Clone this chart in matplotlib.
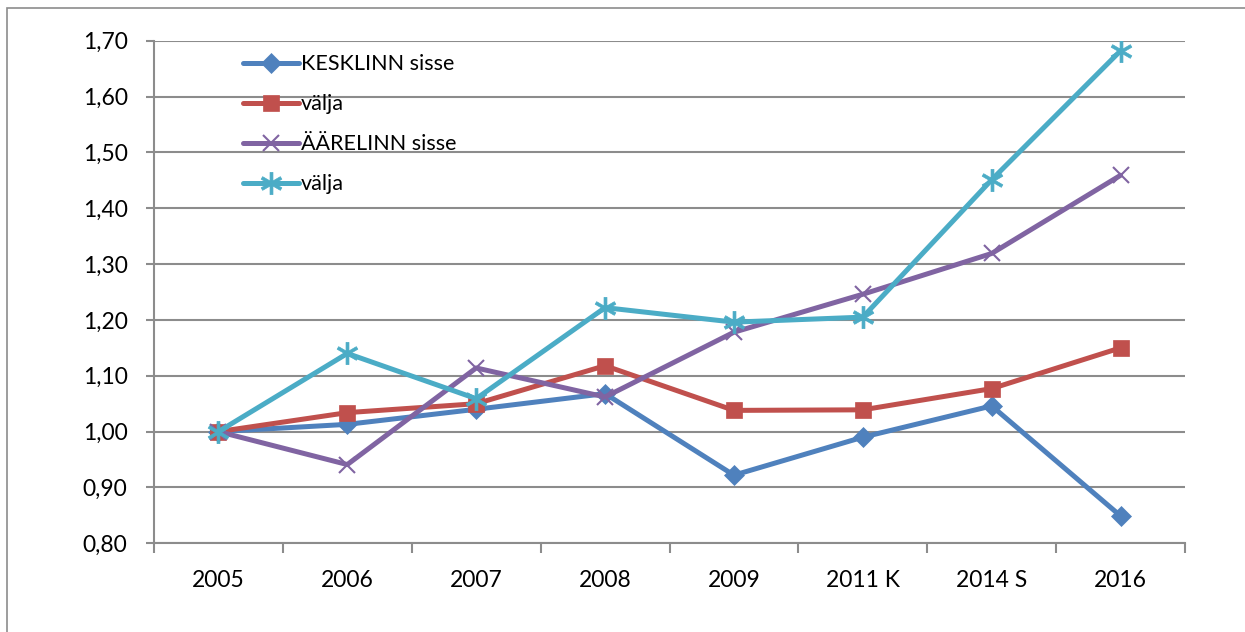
import numpy as np
import matplotlib
matplotlib.use("Agg")
from matplotlib import pyplot as plt
from matplotlib.patches import Rectangle
from matplotlib.ticker import FuncFormatter, FixedLocator

plt.rcParams['font.family'] = ['Lato', 'DejaVu Sans']

years = ["2005", "2006", "2007", "2008", "2009", "2011 K", "2014 S", "2016"]
kesklinn_sisse = [1.000, 1.013, 1.040, 1.068, 0.922, 0.990, 1.046, 0.849]
kesklinn_valja = [1.000, 1.034, 1.050, 1.118, 1.038, 1.039, 1.077, 1.150]
aarelinn_sisse = [1.000, 0.941, 1.114, 1.062, 1.178, 1.246, 1.319, 1.459]
aarelinn_valja = [1.000, 1.140, 1.059, 1.222, 1.196, 1.205, 1.451, 1.682]
labels = ["KESKLINN sisse", "välja", "ÄÄRELINN sisse", "välja"]

series = [kesklinn_sisse, kesklinn_valja, aarelinn_sisse, aarelinn_valja]
colors = ["#4F81BD", "#C0504D", "#8064A2", "#4BACC6"]
markers = ["D", "s", "x", "$\u2217$"]
msizes = [10, 12, 12, 16]
grid_c = "#8c8c8c"

fig = plt.figure(figsize=(12.45, 6.32), dpi=100)
ax = fig.add_axes([154 / 1245, 1 - 543.3 / 632, 1031 / 1245, 502.6 / 632])

x = np.arange(len(years))
for vals, lab, c, m, ms in zip(series, labels, colors, markers, msizes):
    ax.plot(x, vals, color=c, lw=3.6, marker=m, markersize=ms, label=lab,
            markeredgewidth=1.5 if m == "x" else 0.5, markeredgecolor=c,
            solid_joinstyle="round", solid_capstyle="round", zorder=3)

ax.set_xlim(-0.5, len(years) - 0.5)
ax.set_ylim(0.8, 1.7)
ax.set_yticks(np.arange(0.8, 1.71, 0.1))
ax.yaxis.set_major_formatter(FuncFormatter(lambda v, p: f"{v:.2f}".replace(".", ",")))
ax.yaxis.grid(True, color=grid_c, lw=1.5)
ax.set_axisbelow(True)

ax.xaxis.set_major_locator(FixedLocator(np.arange(-0.5, len(years), 1.0)))
ax.xaxis.set_major_formatter(FuncFormatter(lambda v, p: ""))
ax.set_xticks(x, minor=True)
ax.set_xticklabels(years, minor=True)
ax.tick_params(axis="x", which="major", length=7, width=1.5, color=grid_c, direction="out")
ax.tick_params(axis="x", which="minor", length=0, pad=19, labelsize=16.5)
ax.tick_params(axis="y", length=6, width=1.5, color=grid_c, pad=13, labelsize=16.5)

for s in ["top", "right"]:
    ax.spines[s].set_visible(False)
for s in ["left", "bottom"]:
    ax.spines[s].set_color(grid_c)
    ax.spines[s].set_linewidth(1.5)

leg = ax.legend(loc="upper left", bbox_to_anchor=(0.082, 0.982), frameon=False,
                fontsize=15.5, handlelength=2.6, handletextpad=0.1,
                labelspacing=0.93, borderpad=0.2, borderaxespad=0, numpoints=1)

fig.patches.append(Rectangle((7 / 1245, -0.1), 1.2, 1.1 - 8 / 632, transform=fig.transFigure,
                             fill=False, edgecolor="#8c8c8c", lw=1.2))

fig.savefig("out.png", dpi=100)
